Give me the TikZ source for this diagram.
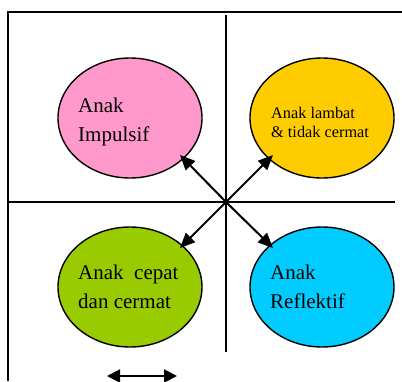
\documentclass[tikz,border=0pt]{standalone}
\usepackage{fontspec}
\setmainfont{Liberation Serif}
\usetikzlibrary{shapes.geometric,arrows.meta}
\definecolor{cpink}{HTML}{FF99CC}
\definecolor{corange}{HTML}{FFCC00}
\definecolor{cgreen}{HTML}{99CC00}
\definecolor{cblue}{HTML}{00CCFF}
\tikzset{
 oval/.style={ellipse, draw=black, line width=1.4pt, minimum width=144pt, minimum height=120pt, inner sep=0pt},
 frameline/.style={line width=1.3pt},
 txt/.style={anchor=base west, align=left, inner sep=0pt, font=\fontsize{21}{25}\selectfont},
 smalltxt/.style={anchor=base west, align=left, inner sep=0pt, font=\fontsize{16.3}{18}\selectfont},
 conn/.style={line width=2pt, -{Triangle[length=15pt,width=13pt]}},
 dbl/.style={line width=2.2pt, {Triangle[length=13pt,width=13pt]}-{Triangle[length=13pt,width=13pt]}}
}
\begin{document}
\begin{tikzpicture}[x=1pt,y=-1pt]
\useasboundingbox (0,0) rectangle (402,381);
% frame
\draw[frameline] (8,381) -- (8,12) -- (402,12);
\draw[frameline] (226,15) -- (226,352);
\draw[frameline] (9,202) -- (395,202);
% ellipses
\node[oval, fill=cpink] (pink) at (130,118) {};
\node[oval, fill=corange] (orange) at (322,118) {};
\node[oval, fill=cgreen] (green) at (130,287) {};
\node[oval, fill=cblue] (blue) at (322,287) {};
% texts (base anchor = baseline of the last line)
\node[txt] (tpink) at (78,141) {Anak\\[4pt]Impulsif};
\node[smalltxt] (torange) at (271,137.5) {Anak lambat\\[1pt]\& tidak cermat};
\node[txt] (tgreen) at (78,308.5) {Anak\ \ cepat\\[4pt]dan cermat};
\node[txt] (tblue) at (270,308.5) {Anak\\[4pt]Reflektif};
% arrows
\coordinate (c) at (226,202);
\coordinate (pt) at (180,155);
\coordinate (ot) at (273,155);
\coordinate (gt) at (180,248);
\coordinate (bt) at (273,248);
\draw[conn] (c) -- (pt);
\draw[conn] (c) -- (ot);
\draw[conn] (c) -- (gt);
\draw[conn] (c) -- (bt);
% bottom double arrow
\coordinate (dl) at (107,376);
\coordinate (dr) at (177,376);
\draw[dbl] (dl) -- (dr);
\end{tikzpicture}
\end{document}
